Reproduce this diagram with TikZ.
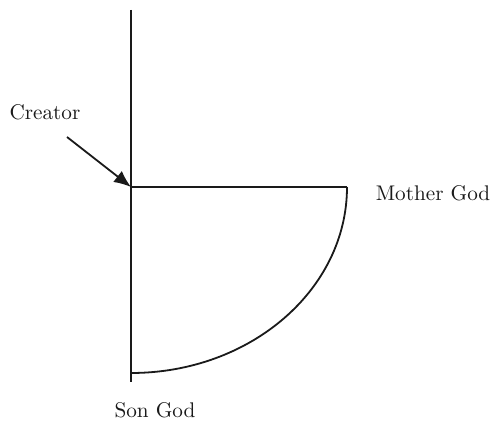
\documentclass[tikz,border=0pt]{standalone}
\usepackage{tikz}
\usetikzlibrary{arrows.meta,positioning}
\definecolor{ink}{HTML}{1A1A1A}

\begin{document}
\begin{tikzpicture}[x=0.5pt,y=0.5pt,
    axisline/.style={draw=ink, line width=0.9pt},
    godlabel/.style={text=ink, font=\fontsize{10.6}{12}\selectfont, inner sep=0pt}]
  \useasboundingbox (0,0) rectangle (491,422);
  % axis and corner points
  \coordinate (top) at (131,412);
  \coordinate (bottom) at (131,40);
  \coordinate (corner) at (131,235);
  \coordinate (rightend) at (347,235);
  \coordinate (curveend) at (131,49);
  \coordinate (tail) at (67,285);
  \draw[axisline] (top) -- (bottom);
  \draw[axisline] (corner) -- (rightend);
  \draw[axisline] (rightend) arc[start angle=0, end angle=-90, x radius=216, y radius=186];
  % labels
  \node[godlabel] (creator) at (45,310) {Creator};
  \node[godlabel] (mother) at (433,229) {Mother God};
  \node[godlabel] (son) at (155,12) {Son God};
  \draw[axisline, -{Latex[length=8.5pt,width=7pt]}] (tail) -- (corner);
\end{tikzpicture}
\end{document}
